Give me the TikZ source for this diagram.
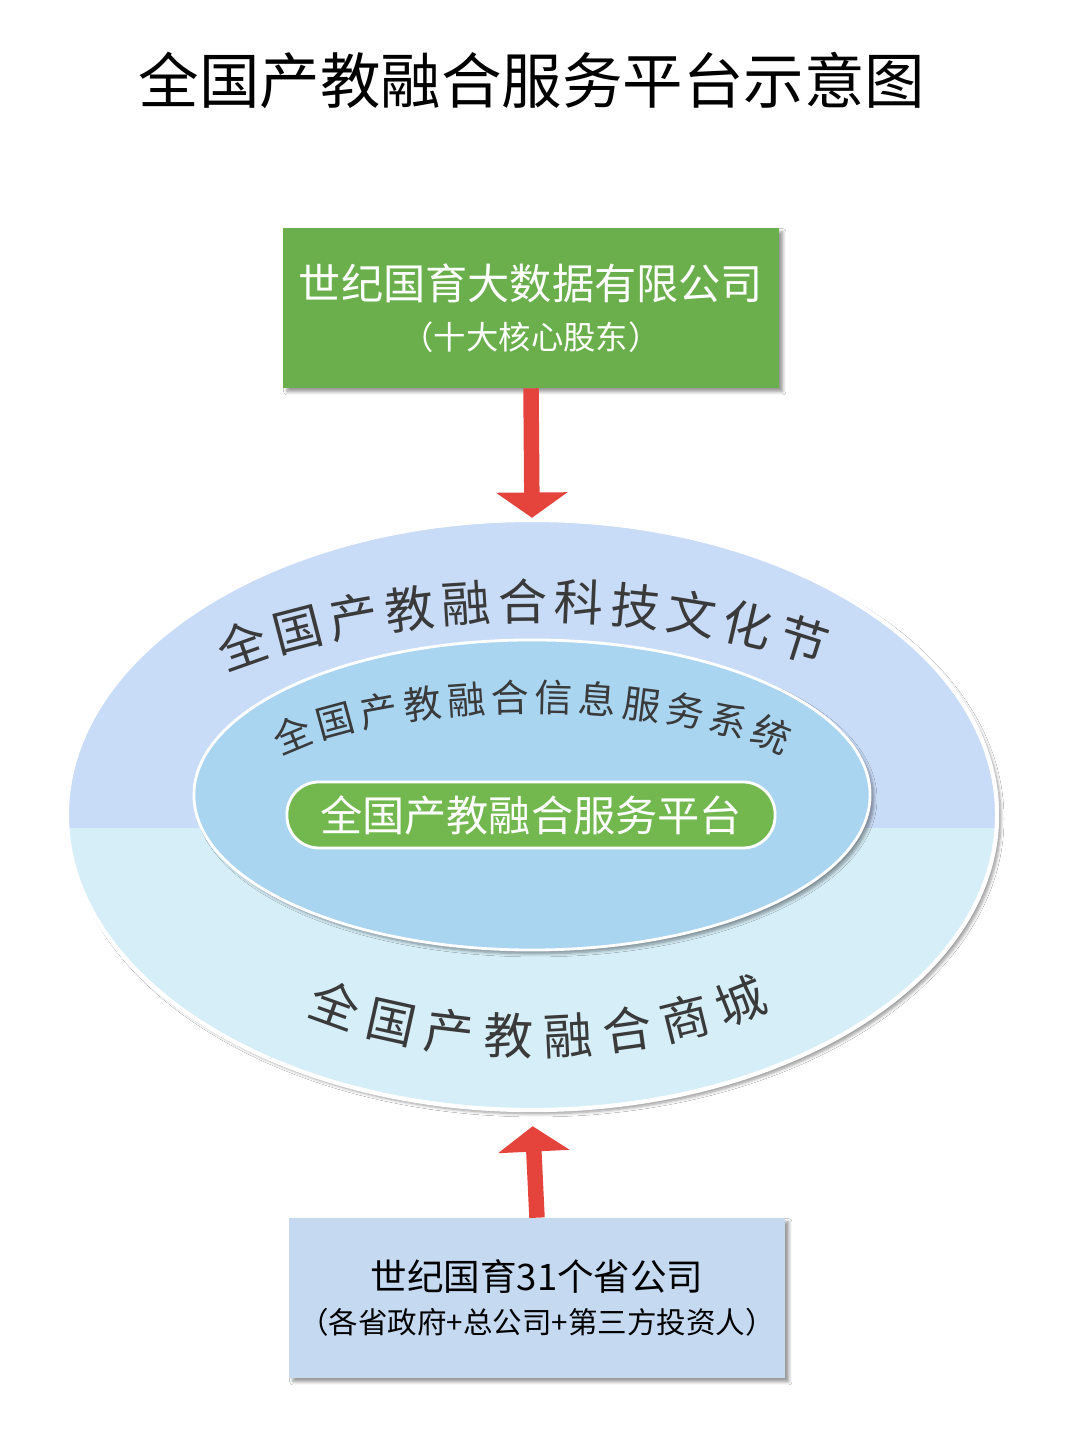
\documentclass[tikz,border=0pt]{standalone}
\usepackage{fontspec}
\setmainfont{Noto Sans CJK SC}
\usetikzlibrary{positioning, shapes.geometric, arrows.meta, decorations.text, shadows.blur}
\definecolor{boxgreen}{HTML}{6AAF4C}
\definecolor{pillgreen}{HTML}{72B84F}
\definecolor{topblue}{HTML}{C9DCF7}
\definecolor{lowblue}{HTML}{D6EEF7}
\definecolor{innerblue}{HTML}{A9D5F1}
\definecolor{boxblue}{HTML}{C5D9F1}
\definecolor{arrowred}{HTML}{E5443C}
\definecolor{labelgray}{HTML}{3A3A3A}
\tikzset{
  company/.style={rectangle, minimum width=12.4cm, minimum height=4cm, align=center, blur shadow={shadow blur steps=6}},
  flow/.style={draw=arrowred, line width=11pt, -{Triangle[width=50pt, length=18pt]}},
  arclabel/.style={decorate, decoration={text along path, text align={fit to path}, text color=labelgray}}
}
\begin{document}
\begin{tikzpicture}[x=0.025cm, y=0.025cm]
  \useasboundingbox[fill=white] (0,0) rectangle (1080,1440);

  % Title
  \node (title) at (532,1360) {\fontsize{43pt}{48pt}\selectfont 全国产教融合服务平台示意图};

  % Nodes
  \node (top) [company, fill=boxgreen, text=white] at (531,1132)
        {\fontsize{30pt}{36pt}\selectfont 世纪国育大数据有限公司\\[12pt]
         \fontsize{23pt}{28pt}\selectfont （十大核心股东）};

  \node (outer) [ellipse, minimum width=23.25cm, minimum height=14.75cm, draw=white, line width=3pt,
        blur shadow={shadow blur steps=6},
        path picture={
          \fill[lowblue] (path picture bounding box.south west) rectangle (path picture bounding box.north east);
          \fill[topblue] (path picture bounding box.north west) rectangle ([yshift=-0.33cm]path picture bounding box.east);
          \draw[white, line width=2pt] (path picture bounding box.west |- 0,612) -- (path picture bounding box.east |- 0,612);
        }] at (532,625) {};

  \node (inner) [ellipse, minimum width=16.9cm, minimum height=7.75cm, fill=innerblue, draw=white,
        line width=2pt, blur shadow={shadow blur steps=6}] at (532,645) {};

  \node (platform) [rectangle, rounded corners=0.8cm, minimum width=12.2cm, minimum height=1.65cm,
        fill=pillgreen, draw=white, line width=2pt, text=white] at (531,625)
        {\fontsize{30pt}{36pt}\selectfont 全国产教融合服务平台};

  \node (bottom) [company, fill=boxblue, text=black] at (537,142)
        {\fontsize{26pt}{32pt}\selectfont 世纪国育31个省公司\\[10pt]
         \fontsize{21pt}{26pt}\selectfont （各省政府+总公司+第三方投资人）};

  % Curved labels
  \path[arclabel, decoration={text={|\fontsize{35pt}{40pt}\selectfont|全国产教融合科技文化节}}]
        (532,625) ++(133:449 and 195) arc[start angle=133, end angle=50, x radius=449, y radius=195];
  \path[arclabel, decoration={text={|\fontsize{27pt}{32pt}\selectfont|全国产教融合信息服务系统}}]
        (532,640) ++(150:290 and 88) arc[start angle=150, end angle=30, x radius=290, y radius=88];
  \path[arclabel, decoration={text={|\fontsize{35pt}{40pt}\selectfont|全国产教融合商城}}]
        (532,525) ++(225:320 and 140) arc[start angle=225, end angle=318, x radius=320, y radius=140];

  % Arrows
  \draw[flow] (top.south) -- (outer.north);
  \draw[flow, shorten >=10pt] (bottom.north) -- (outer.south);
\end{tikzpicture}
\end{document}
